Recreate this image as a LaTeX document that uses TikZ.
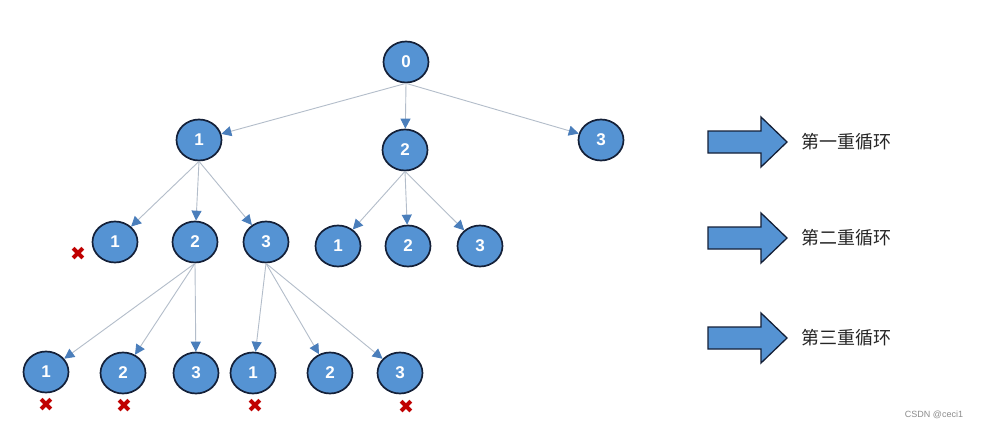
\documentclass[tikz,border=0pt]{standalone}
\usepackage{fontspec}
\setmainfont{Liberation Sans}
\newfontfamily\cjk{Noto Sans CJK SC}
\newfontfamily\sym{DejaVu Sans}
\usetikzlibrary{arrows.meta,shapes.geometric}
\definecolor{nodeblue}{HTML}{5593D3}
\definecolor{navy}{HTML}{142038}
\definecolor{edgegray}{HTML}{B3BDCA}
\definecolor{arrowblue}{HTML}{4A7EBB}
\definecolor{xred}{HTML}{C00000}
\begin{document}
\begin{tikzpicture}[x=1pt,y=-1pt,
  tn/.style={ellipse,draw=navy,line width=1.7pt,fill=nodeblue,minimum width=45pt,minimum height=41pt,inner sep=0pt,text=white,font=\bfseries\fontsize{17}{17}\selectfont},
  ed/.style={draw=edgegray,line width=0.9pt,-{Triangle[width=10pt,length=10pt,color=arrowblue]}},
  xm/.style={text=xred,font=\sym\fontsize{19}{19}\selectfont,inner sep=0pt},
  bigarrow/.style={draw=navy,line width=1.3pt,fill=nodeblue,line join=miter},
  lbl/.style={font=\cjk\fontsize{18}{18}\selectfont,anchor=west,text=black!85,inner sep=0pt}]
\fill[white] (0,0) rectangle (994,429);
\useasboundingbox (0,0) rectangle (994,429);
% level 0
\node[tn] (n0) at (406,62) {0};
% level 1
\node[tn] (a1) at (199,140) {1};
\node[tn] (a2) at (405,150) {2};
\node[tn] (a3) at (601,140) {3};
% level 2
\node[tn] (b1) at (115,242) {1};
\node[tn] (b2) at (195,242) {2};
\node[tn] (b3) at (266,242) {3};
\node[tn] (c1) at (338,246) {1};
\node[tn] (c2) at (408,246) {2};
\node[tn] (c3) at (480,246) {3};
% level 3
\node[tn] (d1) at (46,372) {1};
\node[tn] (d2) at (123,373) {2};
\node[tn] (d3) at (196,373) {3};
\node[tn] (e1) at (253,373) {1};
\node[tn] (e2) at (330,373) {2};
\node[tn] (e3) at (400,373) {3};
% edges
\draw[ed] (n0.south) -- (a1);
\draw[ed] (n0.south) -- (a2);
\draw[ed] (n0.south) -- (a3);
\draw[ed] (a1.south) -- (b1);
\draw[ed] (a1.south) -- (b2);
\draw[ed] (a1.south) -- (b3);
\draw[ed] (a2.south) -- (c1);
\draw[ed] (a2.south) -- (c2);
\draw[ed] (a2.south) -- (c3);
\draw[ed] (b2.south) -- (d1);
\draw[ed] (b2.south) -- (d2);
\draw[ed] (b2.south) -- (d3);
\draw[ed] (b3.south) -- (e1);
\draw[ed] (b3.south) -- (e2);
\draw[ed] (b3.south) -- (e3);
% crosses
\node[xm] (x1) at (78,254) {✖};
\node[xm] (x2) at (46,405) {✖};
\node[xm] (x3) at (124,406) {✖};
\node[xm] (x4) at (255,406) {✖};
\node[xm] (x5) at (406,407) {✖};
% block arrows
\foreach \yy/\t [count=\i] in {142/第一重循环,238/第二重循环,338/第三重循环}{
  \draw[bigarrow] (708,\yy-11) -- (761,\yy-11) -- (761,\yy-25) -- (787,\yy) -- (761,\yy+25) -- (761,\yy+11) -- (708,\yy+11) -- cycle;
  \node[lbl] (t\i) at (801,\yy) {\t};
}
\node[font=\fontsize{9}{9}\selectfont,text=black!45,inner sep=0pt] (wm) at (934,415) {CSDN @ceci1};
\end{tikzpicture}
\end{document}
